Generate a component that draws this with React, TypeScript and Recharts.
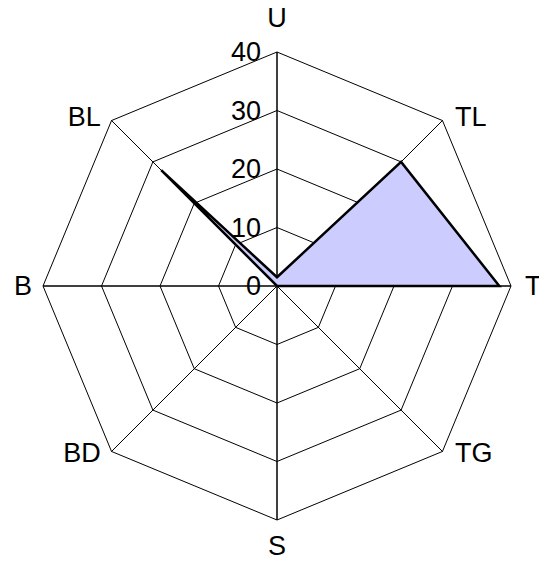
import React from 'react';
import { RadarChart, Radar, PolarGrid, PolarAngleAxis, PolarRadiusAxis } from 'recharts';

// directions, clockwise from the top
const directions = ['U', 'TL', 'T', 'TG', 'S', 'BD', 'B', 'BL'];
const counts = [1.5, 30, 38, 0, 0, 0, 0, 28];
const radiusTicks = [0, 10, 20, 30, 40];

const data = directions.map((d, i) => ({ dir: d, value: counts[i] }));

const CX = 277;
const CY = 286;
const FONT = '"Liberation Sans", Arial, Helvetica, sans-serif';

const AngleTick = (props: any) => {
	const { x, y, payload } = props;
	const dx = x - CX;
	const dy = y - CY;
	let tx = x;
	let ty = y;
	let anchor: 'start' | 'middle' | 'end' = 'middle';
	if (Math.abs(dx) < 1) {
		ty = dy < 0 ? y - 26 : y + 18;
	} else if (Math.abs(dy) < 1) {
		tx = dx < 0 ? x - 3 : x + 6;
		anchor = dx < 0 ? 'end' : 'start';
	} else {
		tx = dx < 0 ? x - 5 : x + 7;
		ty = dy < 0 ? y + 2 : y - 4;
		anchor = dx < 0 ? 'end' : 'start';
	}
	return (
		<text x={tx} y={ty} textAnchor={anchor} dominantBaseline="central" fontSize={27} fontFamily={FONT} fill="#000">
			{payload.value}
		</text>
	);
};

const RadiusTick = (props: any) => {
	const { x, y, payload } = props;
	return (
		<text x={x - 16} y={y} textAnchor="end" dominantBaseline="central" fontSize={27} fontFamily={FONT} fill="#000">
			{payload.value}
		</text>
	);
};

const App: React.FC = () => {
	return (
		<div style={{ position: 'absolute', left: 0, top: 0, background: '#fff' }}>
			<RadarChart width={539} height={562} data={data} cx={CX} cy={CY} outerRadius={234} margin={{ top: 0, right: 0, bottom: 0, left: 0 }}>
				<PolarGrid gridType="polygon" stroke="#000" strokeOpacity={1} strokeWidth={1} />
				<PolarAngleAxis dataKey="dir" tick={AngleTick} tickLine={false} axisLine={false} />
				<PolarRadiusAxis
					angle={90}
					orientation="left"
					domain={[0, 40]}
					ticks={radiusTicks as any}
					tickCount={5}
					axisLine={false}
					tickLine={false}
					tick={RadiusTick}
				/>
				<Radar
					dataKey="value"
					stroke="#000"
					strokeWidth={2.5}
					fill="#ccccff"
					fillOpacity={1}
					dot={false}
					isAnimationActive={false}
				/>
				{/* spokes again on top of the fill */}
				<PolarGrid gridType="polygon" stroke="#000" strokeOpacity={1} strokeWidth={1} polarRadius={[0]} />
			</RadarChart>
		</div>
	);
};

export default App;
